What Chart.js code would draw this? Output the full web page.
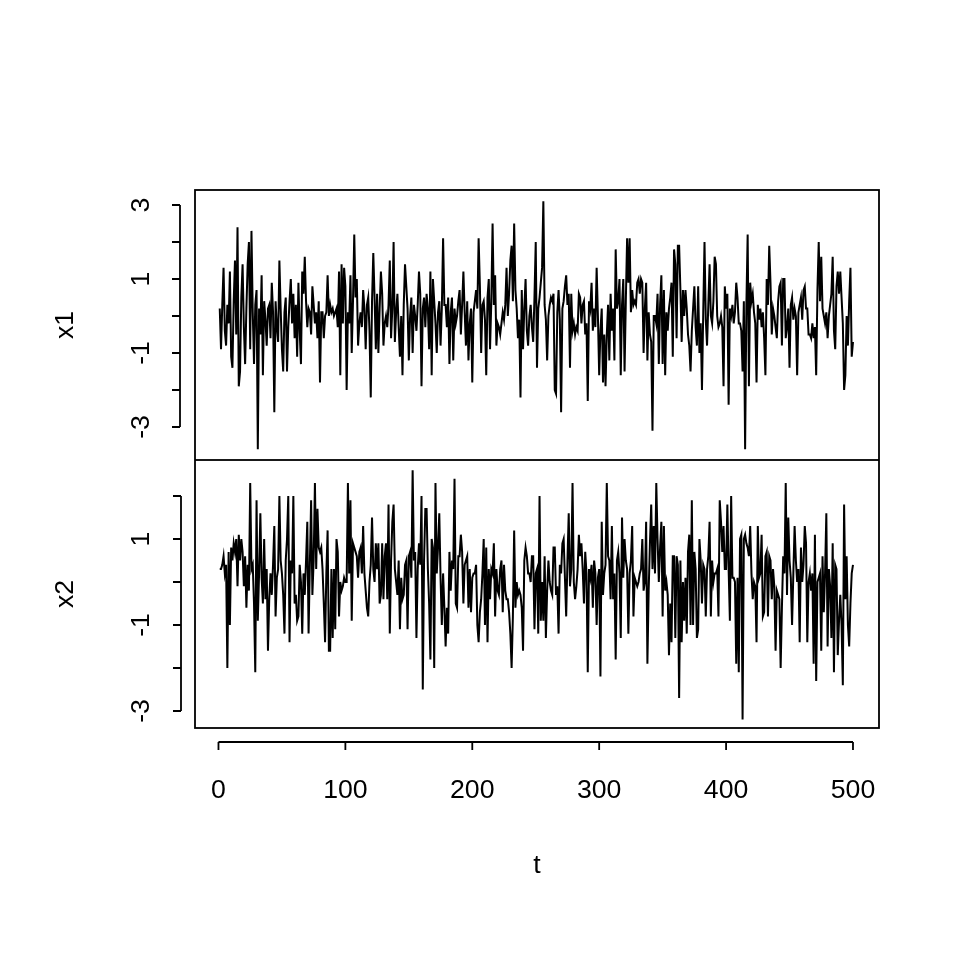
<!DOCTYPE html>
<html>
<head>
<meta charset="utf-8">
<script src="https://cdn.jsdelivr.net/npm/chart.js@4.4.1/dist/chart.umd.min.js"></script>
<style>
  html, body { margin: 0; padding: 0; background: #fff; }
  #wrap { position: relative; width: 960px; height: 960px; }
  #c1 { position: absolute; left: 0; top: 0; }
  #c2 { position: absolute; left: 0; top: 460px; }
</style>
</head>
<body>
<div id="wrap">
  <canvas id="c1" width="960" height="460"></canvas>
  <canvas id="c2" width="960" height="500"></canvas>
</div>
<script>
// series, t = 1..500
const x1 = [
  0.2, -0.9, 0.3, 1.3, -0.4, -0.8, 0.3, -0.2, 1.2, -1.1,
  -1.4, 0.4, 1.5, -0.5, 2.4, -1.9, -1.5, 0.5, 1.4, -0.3,
  -1.3, 0.2, 1.4, 2.0, -0.9, 2.3, 0.1, -1.3, 0.3, 0.7,
  -3.6, 0.2, -0.5, 1.1, -1.6, 0.4, -0.1, -0.8, 0.2, 0.3,
  -0.6, 0.9, 0.1, -2.6, 0.4, -0.3, -0.7, 1.5, 0.2, -0.9,
  -1.5, 0.1, 0.5, -1.5, -0.3, 0.4, 1.0, -0.2, 0.6, -0.6,
  0.3, -1.1, 0.9, -0.4, -1.3, 1.2, 0.6, 1.6, 0.4, -0.3,
  0.2, 0.1, -0.5, 0.8, 0.3, -0.2, 0.1, -0.6, 0.4, -1.8,
  0.1, 0.1, -0.6, 0.0, 0.1, 1.1, 0.0, 0.3, 0.1, 0.2,
  0.0, 0.1, 0.2, -0.3, 1.2, -1.6, 1.4, -0.2, 1.3, 0.8,
  -2.0, 0.1, -0.2, 1.1, -1.0, 0.4, 2.2, 0.5, 1.0, -0.8,
  -0.2, 0.1, -0.3, 0.7, 0.2, -0.9, 0.3, 0.5, -0.4, -2.2,
  0.4, 1.7, 0.5, -0.9, 0.6, -1.0, 0.2, 1.2, 0.6, -0.8,
  -0.2, 0.0, -0.3, 0.3, 1.5, -0.6, 0.2, 2.0, -0.7, 0.1,
  0.6, -0.3, -1.1, 0.0, -1.6, 0.3, 1.4, 0.8, 0.2, -1.2,
  0.0, 0.5, -1.0, 0.3, 0.0, -0.4, 0.3, 1.2, 0.6, -1.9,
  0.2, 0.5, -0.3, 0.6, 0.2, -0.9, 1.2, -1.6, 1.0, 0.4,
  -0.2, -1.0, 0.1, 0.4, -0.8, 0.2, 2.1, 0.3, 0.3, -0.3,
  0.5, -1.3, 0.1, 0.5, -1.2, 0.2, -0.2, 0.0, 0.4, 0.7,
  -0.5, 0.3, 1.2, 0.1, -0.8, 0.4, -1.2, -0.2, 0.2, -1.8,
  0.1, 0.4, 0.7, 0.2, 2.1, 0.8, -1.0, 0.3, 0.4, -0.1,
  -1.6, 0.5, 1.0, -0.9, 0.4, 2.5, 0.3, 1.1, -0.8, -0.2,
  -0.3, -0.5, -0.2, 0.1, -0.1, 0.3, 1.3, 0.0, 0.6, 1.5,
  1.9, 0.4, 2.5, 0.7, 0.2, -0.6, -0.1, -2.2, 0.7, -0.9,
  0.2, 1.0, -0.4, -0.8, 0.0, 0.3, -0.3, -0.7, 0.5, 2.0,
  -1.4, 0.2, 0.5, 0.9, 1.3, 3.1, 0.3, -0.1, -1.2, 0.0,
  0.3, 0.5, 0.4, 0.6, -2.0, -2.1, 0.1, 0.7, -0.1, -2.6,
  0.2, 0.4, 0.8, 1.1, 0.3, 0.6, -1.4, 0.6, -0.4, -0.2,
  -0.5, -0.3, -0.4, 0.6, 0.5, -0.2, 0.3, 0.4, -0.5, -0.2,
  -2.3, 0.4, 0.2, 0.9, -0.4, 0.2, -0.3, 1.3, 0.0, -1.6,
  -0.4, 0.2, -1.8, -0.5, -1.9, -0.5, 0.3, -1.2, 0.6, -0.4,
  0.2, -1.2, 1.8, 0.2, 0.4, 1.0, -1.6, 0.3, 1.0, -1.5,
  0.4, 2.1, 0.9, 2.1, 0.1, 0.7, 0.3, 0.4, 0.3, 0.9,
  1.0, 0.6, 1.0, 0.9, -1.0, 0.2, 0.9, -1.2, 0.1, -0.5,
  -0.7, -3.1, 0.0, 0.0, -0.2, 0.6, -1.3, 0.3, 1.1, -1.3,
  0.7, -1.6, 0.1, -0.4, 0.2, 0.5, 0.9, -1.1, 1.8, 1.4,
  -0.6, 1.9, 1.9, 0.7, -0.7, 0.7, 0.0, 0.7, 0.2, -0.5,
  -0.8, -1.5, -0.4, 0.2, 0.8, -0.3, -0.8, 0.8, -1.0, -0.2,
  -2.0, 0.1, 2.0, -0.1, -0.8, 0.3, 1.4, 0.0, -0.2, 0.4,
  1.6, 1.4, 0.0, -0.3, -0.2, 0.0, -0.3, -1.9, 0.8, 0.2,
  0.6, -2.4, 0.2, 0.0, 0.3, -0.2, 0.1, 0.9, 0.5, -0.2,
  -0.2, -0.4, -1.5, 0.4, -3.6, 0.3, 2.2, -1.9, 0.9, 0.4,
  0.6, 0.1, -0.2, -1.8, 0.3, -0.1, 0.2, -0.3, 0.1, -0.6,
  -1.6, 1.0, 0.3, 1.9, 0.9, -0.5, 0.2, 0.0, -0.3, -0.6,
  0.4, 0.8, 0.9, -0.8, 1.0, 1.0, -0.6, -0.3, 0.2, -1.4,
  0.3, 0.5, -0.1, 0.2, 0.0, -1.6, 0.1, 0.3, 0.5, -0.1,
  0.7, 0.8, 0.2, 0.2, -0.5, -0.5, -0.6, -0.2, -0.6, -0.3,
  -1.6, 0.7, 2.0, 0.4, 1.6, 0.2, 0.0, -0.2, 0.1, -0.6,
  0.0, 0.3, 0.6, 1.6, -0.4, -0.9, 0.8, 1.2, 0.6, 1.2,
  0.5, -0.2, -2.0, -1.6, 0.0, -0.8, 0.4, 1.3, -1.1, -0.7
];
const x2 = [
  0.3, 0.3, 0.4, 0.6, 0.2, 0.4, -2.0, 0.7, -1.0, 0.8,
  0.5, 0.9, 0.7, 1.0, -0.1, 1.1, 0.5, 1.0, 0.7, -0.1,
  0.6, -0.6, 0.4, -0.2, 2.3, 0.3, 0.4, -0.5, -2.1, 1.9,
  -0.9, 0.2, 1.6, 0.1, -0.5, 1.0, -0.4, 0.3, -1.6, -0.4,
  0.2, -0.3, 0.4, 1.3, -0.8, 0.1, 0.3, 2.0, 0.5, 0.2,
  -0.3, -1.2, 0.5, 1.0, 2.0, -1.4, 0.5, 0.2, 2.0, -0.5,
  -0.3, -0.9, -0.8, 0.4, 0.0, -1.2, 0.2, -0.3, 0.5, 1.4,
  -1.2, 0.4, 1.9, -0.3, 0.5, 2.3, 0.3, 1.7, 0.8, 0.7,
  0.8, 0.3, -0.5, -1.4, 0.2, 1.2, -1.6, -1.6, 0.3, -1.3,
  0.3, -1.1, 1.0, 0.7, -0.8, 0.0, -0.2, -0.1, 0.1, 0.0,
  0.0, 2.3, 0.2, 1.9, -0.9, 0.9, 0.8, 0.7, 0.6, 0.1,
  0.7, 0.8, 0.2, 1.3, 0.2, -0.2, -0.6, -0.8, 0.0, 0.4,
  1.5, 0.3, 0.0, 0.9, 0.3, 0.9, -0.5, -0.3, 0.9, -0.4,
  0.6, 0.9, -0.4, 1.8, -1.2, 0.5, 1.4, 1.8, 0.3, 0.0,
  -0.3, 0.5, -1.1, 0.1, -0.4, -0.3, 0.4, 0.5, -1.1, 0.6,
  0.7, 0.1, 2.6, 0.5, 0.7, -1.3, 0.3, 0.9, 0.4, 2.0,
  -2.5, 0.5, 1.7, 1.7, 0.3, -0.5, -1.8, 1.0, 0.8, -2.0,
  2.3, 0.2, 0.8, 1.6, 0.1, -1.0, 0.2, -0.6, -1.5, -0.6,
  -1.2, 0.7, -0.2, 0.5, 0.3, 2.4, -0.5, -0.6, 0.6, 0.6,
  1.1, 0.7, -0.5, 0.4, 0.5, 0.6, -0.6, 0.3, -0.7, 0.1,
  0.2, 0.2, 0.4, -1.0, -1.4, -0.7, -0.4, 0.2, 1.0, -1.0,
  0.8, -1.4, 0.3, -0.4, 0.3, 0.2, 0.9, -0.8, 0.3, -0.2,
  -0.3, 0.3, 0.5, -0.7, 0.4, -0.2, -0.4, -0.4, -0.7, -1.2,
  -2.0, -0.8, 1.2, -0.6, 0.0, -0.3, -0.2, -0.3, -0.6, -1.6,
  0.5, 0.8, 0.6, 0.2, 0.2, 0.0, 0.6, 0.6, -1.1, 0.2,
  0.3, -1.2, 2.0, -0.9, 0.0, -0.9, 0.6, -1.3, -0.2, 0.5,
  0.0, -0.2, -0.3, 0.8, 0.8, -0.3, -0.1, -1.2, 0.4, 0.2,
  0.9, 1.0, 0.1, -0.8, 0.5, 1.6, -0.1, 0.3, 2.3, 0.0,
  -0.4, -0.1, 0.3, 1.1, 0.6, 0.9, 0.3, -0.5, 0.7, 0.2,
  -2.1, 0.3, 0.1, 0.4, -0.6, 0.5, 0.2, -1.0, 0.1, 0.3,
  -2.2, 1.4, -0.3, 0.2, 0.4, 2.3, 0.6, 0.5, -0.4, 1.3,
  -0.4, 0.2, -1.8, 0.5, 0.7, 0.2, -1.3, 1.5, 0.1, 1.0,
  0.5, 0.3, -1.2, 0.2, 0.5, 1.3, -0.8, 0.1, 0.0, -0.1,
  0.0, 0.2, 0.3, 1.0, -0.2, 0.0, 1.4, -1.9, -0.2, 0.9,
  1.8, 0.3, 1.3, 0.2, 2.3, 1.0, 0.0, 0.8, 1.4, -0.8,
  1.3, -0.2, 0.0, -0.3, -1.7, -0.5, -1.4, 0.6, 0.6, -1.3,
  0.6, 0.4, -2.7, 0.5, -1.4, 0.0, -0.9, 0.1, -1.2, 0.7,
  1.1, -1.0, 1.9, -1.0, 0.7, 0.3, -1.3, -1.1, 1.0, 0.5,
  -0.5, 0.4, 0.3, -0.8, 0.3, 0.6, 1.4, -0.8, 0.5, 0.0,
  0.2, 0.2, 0.3, -0.8, 1.9, 1.4, 0.7, 1.3, 0.3, 0.3,
  1.8, 0.3, -0.9, 2.0, 0.1, 0.1, 0.0, -1.9, 0.1, -2.1,
  1.0, 1.1, -3.2, 1.0, 1.1, 0.9, 0.8, 0.6, 1.3, 0.2,
  -0.4, 0.0, -0.1, -1.4, 1.3, 0.1, 0.2, 1.1, -0.8, -0.7,
  0.6, 0.7, -0.8, 0.6, 0.5, -0.4, 0.3, -0.1, -1.6, -0.2,
  -0.3, -0.4, -2.0, -0.6, 0.6, 0.2, 2.3, -0.3, 1.5, 0.5,
  0.1, -1.0, 0.2, 1.3, 0.5, 0.0, 0.3, -1.4, 0.8, 0.0,
  0.4, 1.3, 0.9, -1.4, 0.0, 0.2, -0.2, 0.2, -1.9, 1.1,
  -2.3, 0.0, 0.1, 0.2, -1.6, 0.6, -0.7, 0.2, 1.6, -1.5,
  0.3, -0.1, -1.3, 0.9, -2.1, 0.4, 0.3, -1.7, -0.9, -0.3,
  -1.0, -2.4, 1.8, -0.4, 0.6, -1.0, -1.5, -0.5, 0.2, 0.4
];
const t = x1.map((v, i) => i + 1);

const xTicks = [0, 100, 200, 300, 400, 500];
const y1Ticks = [-3, -2, -1, 0, 1, 2, 3];
const y2Ticks = [-3, -2, -1, 0, 1, 2];
const yLabelled = [-3, -1, 1, 3];

const font = { family: '"Liberation Sans", Arial, sans-serif', size: 26.67, lineHeight: 1.2 };

// box round each panel + R style axis detached from it
const rAxes = {
  id: 'rAxes',
  afterDraw(chart, args, o) {
    const { ctx, chartArea: a, scales } = chart;
    ctx.save();
    ctx.strokeStyle = '#000';
    ctx.lineWidth = 1.8;
    ctx.strokeRect(a.left, a.top, a.right - a.left, a.bottom - a.top);
    ctx.beginPath();
    const ys = scales.y, ax = a.left - o.gap;
    ctx.moveTo(ax, ys.getPixelForValue(o.yTicks[0]));
    ctx.lineTo(ax, ys.getPixelForValue(o.yTicks[o.yTicks.length - 1]));
    o.yTicks.forEach(v => { const p = ys.getPixelForValue(v); ctx.moveTo(ax, p); ctx.lineTo(ax - o.tick, p); });
    if (o.xTicks) {
      const xs = scales.x, ay = a.bottom + o.gap;
      ctx.moveTo(xs.getPixelForValue(o.xTicks[0]), ay);
      ctx.lineTo(xs.getPixelForValue(o.xTicks[o.xTicks.length - 1]), ay);
      o.xTicks.forEach(v => { const p = xs.getPixelForValue(v); ctx.moveTo(p, ay); ctx.lineTo(p, ay + o.tick); });
    }
    ctx.stroke();
    ctx.restore();
  }
};

function yScale(ticks, min, max, title) {
  return {
    min, max,
    afterBuildTicks: s => { s.ticks = ticks.map(v => ({ value: v })); },
    afterFit: s => { s.width = 195; s.paddingTop = 0; s.paddingBottom = 0; },
    grid: { display: false },
    border: { display: false },
    ticks: {
      autoSkip: false, minRotation: 90, maxRotation: 90, crossAlign: 'center',
      padding: 34, color: '#000', font,
      callback: v => yLabelled.includes(v) ? String(v) : ''
    },
    title: { display: true, text: title, color: '#000', font, padding: { top: 50 } }
  };
}

function makeChart(id, values, yOpts, xOpts, pad, axes) {
  return new Chart(document.getElementById(id), {
    type: 'line',
    data: {
      labels: t,
      datasets: [{
        data: values.map((v, i) => ({ x: t[i], y: v })),
        borderColor: '#000', borderWidth: 2,
        pointRadius: 0, tension: 0, fill: false
      }]
    },
    options: {
      responsive: false, animation: false,
      layout: { padding: pad },
      plugins: { legend: { display: false }, tooltip: { enabled: false }, rAxes: axes },
      scales: { x: xOpts, y: yOpts }
    },
    plugins: [rAxes]
  });
}

makeChart('c1', x1,
  yScale(y1Ticks, -3.892, 3.405, 'x1'),
  { type: 'linear', display: false, min: -18.5, max: 520.5 },
  { top: 190, right: 81, left: 0, bottom: 0 },
  { gap: 15, tick: 8, yTicks: y1Ticks });

makeChart('c2', x2,
  yScale(y2Ticks, -3.395, 2.837, 'x2'),
  {
    type: 'linear', min: -18.5, max: 520.5,
    afterBuildTicks: s => { s.ticks = xTicks.map(v => ({ value: v })); },
    afterFit: s => { s.height = 232; s.paddingLeft = 0; s.paddingRight = 0; },
    grid: { display: false },
    border: { display: false },
    ticks: { autoSkip: false, maxRotation: 0, padding: 39, color: '#000', font, callback: v => String(v) },
    title: { display: true, text: 't', color: '#000', font, padding: { bottom: 78 } }
  },
  { top: 0, right: 81, left: 0, bottom: 0 },
  { gap: 14, tick: 8, yTicks: y2Ticks, xTicks });
</script>
</body>
</html>
